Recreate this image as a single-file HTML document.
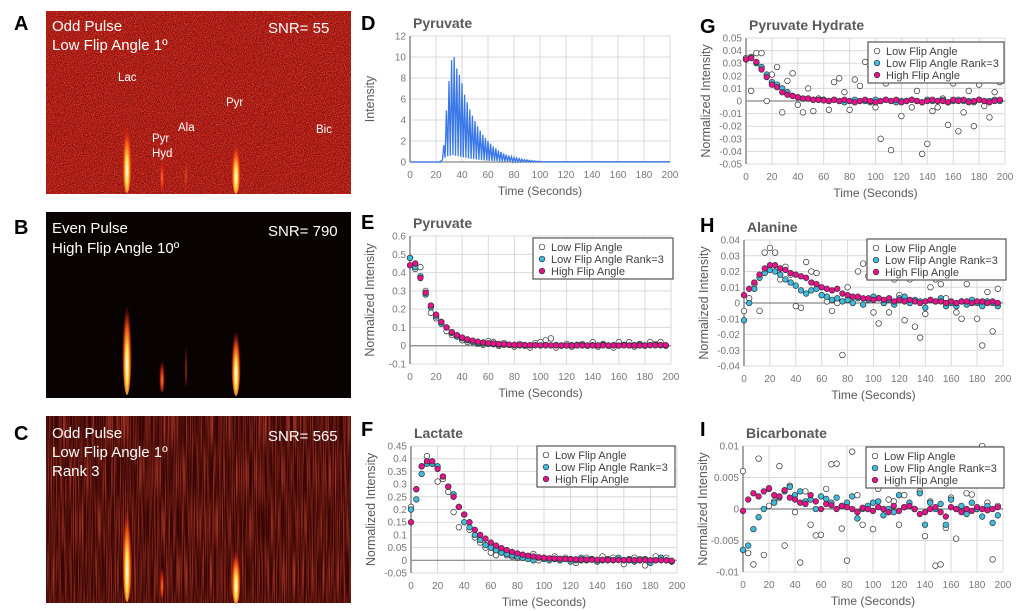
<!DOCTYPE html>
<html><head><meta charset="utf-8"><style>
html,body{margin:0;padding:0;background:#fff;}
svg{display:block;font-family:"Liberation Sans",Arial,sans-serif;}
</style></head><body>
<svg id="fig" width="1022" height="611" viewBox="0 0 1022 611" xmlns="http://www.w3.org/2000/svg">
<defs>
<filter id="noiseR" x="0" y="0" width="100%" height="100%">
<feTurbulence type="fractalNoise" baseFrequency="1.1" numOctaves="1" seed="3"/>
<feColorMatrix type="matrix" values="0 0 0 0 1  0 0 0 0 0.2  0 0 0 0 0.1  2.2 0 0 0 -0.9"/>
</filter>
<filter id="noiseD" x="0" y="0" width="100%" height="100%">
<feTurbulence type="fractalNoise" baseFrequency="1.1" numOctaves="1" seed="7"/>
<feColorMatrix type="matrix" values="0 0 0 0 0  0 0 0 0 0  0 0 0 0 0  2.2 0 0 0 -1.0"/>
</filter>
<filter id="noiseC" x="0" y="0" width="100%" height="100%">
<feTurbulence type="fractalNoise" baseFrequency="0.9 0.02" numOctaves="1" seed="5"/>
<feColorMatrix type="matrix" values="0 0 0 0 0.9  0 0 0 0 0.1  0 0 0 0 0.05  2 0 0 0 -0.8"/>
</filter>
<radialGradient id="streak" cx="0.5" cy="0.75" r="0.5">
<stop offset="0" stop-color="#ffffff"/><stop offset="0.3" stop-color="#ffe050"/>
<stop offset="0.65" stop-color="#ff5a10" stop-opacity="0.85"/><stop offset="1" stop-color="#d01010" stop-opacity="0"/>
</radialGradient>
<radialGradient id="streakW" cx="0.5" cy="0.7" r="0.5">
<stop offset="0" stop-color="#ff8a30"/><stop offset="0.6" stop-color="#e02010" stop-opacity="0.7"/><stop offset="1" stop-color="#c01010" stop-opacity="0"/>
</radialGradient>
</defs>

<g>
<rect x="46" y="11" width="305" height="183" fill="#b00e0b"/>
<rect x="46" y="11" width="305" height="183" filter="url(#noiseR)" opacity="0.9"/>
<rect x="46" y="11" width="305" height="183" filter="url(#noiseD)" opacity="0.7"/>
<ellipse cx="127" cy="148" rx="5" ry="45" fill="url(#streak)"/>
<ellipse cx="162" cy="170" rx="2.5" ry="20" fill="url(#streakW)"/>
<ellipse cx="186" cy="168" rx="2" ry="20" fill="url(#streakW)" opacity="0.6"/>
<ellipse cx="236" cy="160" rx="5" ry="34" fill="url(#streak)"/>
<text x="52" y="31" fill="#fff" font-size="15">Odd Pulse</text>
<text x="52" y="50" fill="#fff" font-size="15">Low Flip Angle 1º</text>
<text x="268" y="33" fill="#fff" font-size="15">SNR= 55</text>
<text x="118" y="81" fill="#fff" font-size="11.5">Lac</text>
<text x="152" y="142" fill="#fff" font-size="11.5">Pyr</text>
<text x="152" y="157" fill="#fff" font-size="11.5">Hyd</text>
<text x="178" y="131" fill="#fff" font-size="11.5">Ala</text>
<text x="226" y="106" fill="#fff" font-size="11.5">Pyr</text>
<text x="316" y="133" fill="#fff" font-size="11.5">Bic</text>
</g>
<text x="14" y="30" font-size="20" font-weight="bold">A</text>

<g>
<rect x="46" y="212" width="305" height="186" fill="#080202"/>
<ellipse cx="127" cy="335" rx="5" ry="60" fill="url(#streak)"/>
<ellipse cx="162" cy="372" rx="3" ry="20" fill="url(#streakW)"/>
<ellipse cx="186" cy="360" rx="1.5" ry="26" fill="url(#streakW)" opacity="0.5"/>
<ellipse cx="236" cy="352" rx="5" ry="44" fill="url(#streak)"/>
<text x="52" y="233" fill="#fff" font-size="15">Even Pulse</text>
<text x="52" y="253" fill="#fff" font-size="15">High Flip Angle 10º</text>
<text x="268" y="236" fill="#fff" font-size="15">SNR= 790</text>
</g>
<text x="14" y="234" font-size="20" font-weight="bold">B</text>

<g>
<rect x="46" y="416" width="305" height="187" fill="#3a0604"/>
<rect x="46" y="416" width="305" height="187" filter="url(#noiseC)" opacity="0.8"/>
<ellipse cx="127" cy="540" rx="5" ry="62" fill="url(#streak)"/>
<ellipse cx="162" cy="578" rx="2.5" ry="20" fill="url(#streakW)"/>
<ellipse cx="236" cy="568" rx="5" ry="36" fill="url(#streak)"/>
<text x="52" y="438" fill="#fff" font-size="15">Odd Pulse</text>
<text x="52" y="457" fill="#fff" font-size="15">Low Flip Angle 1º</text>
<text x="52" y="476" fill="#fff" font-size="15">Rank 3</text>
<text x="268" y="441" fill="#fff" font-size="15">SNR= 565</text>
</g>
<text x="14" y="440" font-size="20" font-weight="bold">C</text>

<text x="361" y="30" font-size="20" font-weight="bold">D</text>
<text x="361" y="229" font-size="20" font-weight="bold">E</text>
<text x="361" y="436" font-size="20" font-weight="bold">F</text>
<text x="700" y="33" font-size="20" font-weight="bold">G</text>
<text x="700" y="232" font-size="20" font-weight="bold">H</text>
<text x="700" y="436" font-size="20" font-weight="bold">I</text>
</svg>
<script>
const TIME=[0,4,8,12,16,20,24,28,32,36,40,44,48,52,56,60,64,68,72,76,80,84,88,92,96,100,104,108,112,116,120,124,128,132,136,140,144,148,152,156,160,164,168,172,176,180,184,188,192,196];
const X_TICKS=[0,20,40,60,80,100,120,140,160,180,200];
const D_T=[24,26,28,30,32,34,36,38,40,42,44,46,48,50,52,54,56,58,60,62,64,66,68,70,72,74,76,78,80,82,84,86,88,90,92,94,96,98,100];
const D_HIGH=[0.1,1.6,4.9,7.7,9.7,10,8.9,8.3,7.5,6.4,5.7,5.0,4.4,3.9,3.4,3.0,2.6,2.3,2.0,1.75,1.5,1.3,1.1,0.95,0.82,0.7,0.6,0.5,0.45,0.38,0.32,0.27,0.23,0.2,0.16,0.13,0.1,0.08,0.06];
const D_LOW=[0.05,0.2,0.4,0.55,0.6,0.65,0.6,0.55,0.5,0.45,0.4,0.35,0.3,0.27,0.24,0.2,0.18,0.15,0.13,0.11,0.1,0.09,0.08,0.07,0.06,0.05,0.04,0.04,0.03,0.03,0.02,0.02,0.02,0.02,0.01,0.01,0.01,0.01,0.01];
const D_YTICKS=["12","10","8","6","4","2","0"];
const E_HIGH=[0.44,0.45,0.37,0.29,0.22,0.17,0.13,0.10,0.075,0.058,0.045,0.035,0.028,0.022,0.018,0.014,0.012,0.010,0.008,0.006,0.005,0.004,0.004,0.003,0.003,0.002,0.002,0.002,0.002,0.001,0.002,0.001,0.002,0.001,0.002,0.001,0.002,0.002,0.001,0.002,0.001,0.002,0.001,0.002,0.001,0.002,0.003,0.002,0.004,0.003];
const E_RANK=[0.48,0.43,0.38,0.28,0.21,0.16,0.12,0.10,0.07,0.05,0.04,0.03,0.02,0.015,0.012,0.01,0.008,0.006,0.005,0.004,0.003,0.002,0.004,0.002,0.003,0.001,0.003,0.002,0.004,0.002,0.001,0.003,0.002,0.004,0.001,0.003,0.002,0.005,0.002,0.003,0.001,0.004,0.002,0.003,0.006,0.002,0.003,0.004,0.002,0.001];
const E_LOW=[0.48,0.42,0.43,0.30,0.18,0.15,0.13,0.08,0.06,0.05,0.03,0.02,0.025,0.01,0.005,0.025,0.02,0.0,0.015,0.005,-0.005,0.01,0.0,-0.01,0.015,0.02,0.03,0.04,-0.01,0.0,0.01,-0.005,0.005,0.01,0.0,0.02,-0.005,0.01,0.0,-0.01,0.02,0.005,0.02,-0.005,0.01,0.0,0.02,0.01,0.02,0.0];
const E_YTICKS=["0.6","0.5","0.4","0.3","0.2","0.1","0","-0.1"];
const F_HIGH=[0.15,0.28,0.37,0.39,0.39,0.36,0.33,0.29,0.25,0.21,0.18,0.15,0.12,0.10,0.085,0.07,0.058,0.048,0.04,0.033,0.027,0.022,0.018,0.015,0.012,0.01,0.008,0.007,0.006,0.005,0.004,0.004,0.003,0.003,0.002,0.002,0.002,0.001,0.001,0.001,0.001,0.001,0.001,0.0,0.001,0.0,0.0,0.0,0.0,-0.002];
const F_RANK=[0.20,0.24,0.34,0.38,0.38,0.37,0.33,0.29,0.26,0.21,0.15,0.13,0.10,0.08,0.06,0.05,0.04,0.03,0.025,0.02,0.015,0.01,0.005,0.0,0.01,0.005,0.0,0.005,0.0,0.005,-0.005,0.0,0.01,0.0,0.005,-0.005,0.0,0.005,0.0,0.01,0.0,0.005,-0.005,0.0,0.005,-0.01,0.0,0.01,0.0,-0.005];
const F_LOW=[0.21,0.28,0.37,0.41,0.38,0.31,0.32,0.27,0.19,0.13,0.18,0.12,0.09,0.07,0.05,0.03,0.02,0.04,0.02,0.015,0.01,0.02,0.01,0.025,0.0,0.01,0.005,0.015,0.0,0.01,0.005,-0.01,0.0,0.01,0.005,-0.005,0.015,0.0,0.01,0.005,-0.015,0.0,0.01,0.005,-0.02,0.0,0.015,0.01,0.01,-0.005];
const F_YTICKS=["0.45","0.4","0.35","0.3","0.25","0.2","0.15","0.1","0.05","0","-0.05"];
const G_HIGH=[0.033,0.034,0.031,0.025,0.019,0.013,0.011,0.007,0.005,0.004,0.003,0.002,0.002,0.001,0.001,0.0005,0.0,0.001,0.0,0.001,0.0,-0.001,0.0,0.001,0.0,-0.001,0.0,0.001,0.0,0.001,-0.001,0.0,0.001,0.0,-0.001,0.0,0.001,0.0,0.0,-0.001,0.001,0.0,0.001,-0.001,0.0,0.001,0.0,-0.001,0.0,0.001];
const G_RANK=[0.033,0.035,0.03,0.027,0.021,0.015,0.013,0.01,0.007,0.004,0.003,0.002,0.002,0.001,0.001,0.001,0.0,0.001,0.0,-0.001,0.0,0.001,0.0,0.0,-0.001,0.001,0.0,0.001,0.0,-0.001,0.0,0.0,0.001,0.0,-0.001,0.001,0.0,0.0,0.001,-0.001,0.0,0.001,0.0,0.0,-0.001,0.001,0.0,0.0,0.001,0.0];
const G_LOW=[0.034,0.008,0.038,0.038,0.0,0.021,0.027,-0.009,0.016,0.022,-0.003,-0.009,0.01,-0.008,0.002,0.001,-0.007,0.015,0.018,0.007,-0.007,0.017,0.012,0.031,0.027,-0.005,-0.03,0.014,-0.039,0.0,-0.012,0.0,-0.005,0.008,-0.042,-0.034,-0.008,-0.005,0.002,-0.019,0.014,-0.024,-0.009,0.008,-0.02,0.013,-0.004,-0.013,0.007,0.015];
const G_YTICKS=["0.05","0.04","0.03","0.02","0.01","0","-0.01","-0.02","-0.03","-0.04","-0.05"];
const H_HIGH=[0.005,0.009,0.013,0.018,0.022,0.024,0.024,0.022,0.021,0.019,0.018,0.017,0.016,0.013,0.012,0.01,0.009,0.008,0.009,0.006,0.005,0.004,0.004,0.003,0.003,0.002,0.003,0.002,0.003,0.001,0.002,0.001,0.002,0.001,0.0,0.001,0.002,0.001,0.001,0.0,0.001,0.0,0.001,0.001,0.0,0.001,0.001,0.0,0.001,0.0];
const H_RANK=[-0.011,0.0,0.009,0.016,0.019,0.021,0.02,0.018,0.015,0.013,0.011,0.008,0.006,0.008,0.009,0.005,0.004,0.002,0.003,0.001,0.002,0.0,0.003,-0.001,0.002,0.004,0.003,0.0,0.002,-0.001,0.003,0.004,0.0,0.002,0.001,-0.003,0.002,0.001,0.003,-0.002,0.0,-0.002,0.001,-0.001,0.002,0.0,-0.002,0.001,0.0,-0.002];
const H_LOW=[-0.005,0.003,0.012,-0.005,0.032,0.035,0.032,0.015,0.023,0.018,-0.002,-0.003,0.026,0.02,0.019,0.005,0.001,-0.005,0.0,-0.033,0.01,0.004,0.02,0.025,0.017,-0.006,-0.013,0.0,-0.006,0.015,0.005,-0.011,0.015,-0.015,-0.022,-0.007,0.01,0.015,0.012,0.003,0.0,-0.006,-0.01,0.012,0.0,-0.01,-0.027,0.007,-0.018,0.009];
const H_YTICKS=["0.04","0.03","0.02","0.01","0","-0.01","-0.02","-0.03","-0.04"];
const I_HIGH=[-0.0003,0.0015,0.0025,0.002,0.0028,0.0033,0.0022,0.002,0.003,0.0018,0.0015,0.001,0.0008,0.0022,0.0012,0.0,0.0008,0.0006,0.0,0.0005,0.0003,0.0,-0.0005,0.0002,0.0,-0.0003,0.0003,0.0,-0.0005,0.0005,-0.0003,0.0003,0.0005,0.0,-0.0008,-0.0005,0.0,0.0003,-0.0005,-0.0012,0.0003,0.0,-0.0005,0.0,-0.0003,0.0003,0.0,-0.0002,0.0,0.0003];
const I_RANK=[-0.0065,-0.0058,-0.0032,-0.0013,0.0,0.0032,0.001,0.0018,0.0028,0.0035,0.0022,0.0028,0.0012,0.0015,0.0,0.002,0.0016,0.001,0.0018,0.0005,0.001,0.002,-0.0015,0.0,0.0005,0.001,0.0012,-0.001,0.0,-0.0005,0.0022,0.0003,0.001,0.0,0.0025,-0.0025,0.001,0.0,0.0008,-0.0025,0.0015,0.0,0.0005,-0.0008,0.001,0.0,-0.0012,0.0005,-0.0022,-0.001];
const I_LOW=[0.006,-0.007,-0.0088,0.008,-0.0073,0.0005,0.0012,0.0068,-0.0058,0.0037,-0.0005,-0.0085,0.0028,-0.0025,-0.0042,-0.0041,0.0032,0.0071,0.0072,-0.0031,-0.0082,0.0091,0.0022,-0.0025,0.0,-0.0032,0.0032,0.0,0.0015,0.0012,-0.0025,0.0022,0.0005,0.0,0.0028,-0.0043,0.0012,-0.009,-0.0088,-0.003,0.0018,-0.0047,0.0038,0.0025,0.0023,0.0,0.01,0.001,-0.008,0.0005];
const I_YTICKS=["0.01","0.005","0","-0.005","-0.01"];
const LEGEND_LABELS=["Low Flip Angle","Low Flip Angle Rank=3","High Flip Angle"];

const NS="http://www.w3.org/2000/svg";
const svg=document.getElementById('fig');
function mk(tag,attrs,parent){const e=document.createElementNS(NS,tag);for(const k in attrs)e.setAttribute(k,attrs[k]);(parent||svg).appendChild(e);return e;}

function axes(c,key){
  const g=mk('g',{});
  
  
  const sx=v=>c.x0+(v-0)/(200-0)*(c.x1-c.x0);
  const sy=v=>c.yb+(v-c.ymin)/(c.ymax-c.ymin)*(c.yt-c.yb);
  const n=c.yticks.length;
  for(let i=0;i<n;i++){
    const v=c.ymax-(c.ymax-c.ymin)*i/(n-1);
    const y=sy(v);
    const l=mk('line',{x1:c.x0,x2:c.x1,y1:y,y2:y,stroke:'#d9d9d9','stroke-width':1},g);
    
    
    const t=mk('text',{x:c.x0-4,y:y+3.5,'text-anchor':'end','font-size':10,fill:'#777'},g);
    t.textContent=c.yticks[i];
    
    
  }
  X_TICKS.forEach(v=>{
    const x=sx(v);
    const l=mk('line',{x1:x,x2:x,y1:c.yt,y2:c.yb,stroke:'#d9d9d9','stroke-width':1},g);
    
    
    const t=mk('text',{x:x,y:c.yb+16,'text-anchor':'middle','font-size':10,fill:'#777'},g);
    t.textContent=String(v);
    
    
  });
  const ax=mk('line',{x1:c.x0,x2:c.x0,y1:c.yt,y2:c.yb,stroke:'#888','stroke-width':1.5},g);
  
  
  const z=mk('line',{x1:c.x0,x2:c.x1,y1:sy(0),y2:sy(0),stroke:'#888','stroke-width':1.2},g);
  
  
  const ti=mk('text',{x:c.x0+3,y:c.yt-8,'font-size':14,'font-weight':'bold',fill:'#595959'},g);
  ti.textContent=c.title;
  
  
  const xt=mk('text',{x:(c.x0+c.x1)/2,y:c.yb+33,'text-anchor':'middle','font-size':12,fill:'#595959'},g);
  xt.textContent='Time (Seconds)';
  
  
  const yx=c.x0-36, yy=(c.yt+c.yb)/2;
  const yt=mk('text',{x:yx,y:yy,'text-anchor':'middle','font-size':12.5,fill:'#595959',transform:`rotate(-90 ${yx} ${yy})`},g);
  yt.textContent=c.ylabel;
  
  
  return {g,sx,sy};
}
const STYLES=[{fill:'#ffffff'},{fill:'#3cbde0'},{fill:'#e8108c'}];
function scatterChart(c,key,low,rank,high){
  const {g,sx,sy}=axes(c,key);
  [low,rank,high].forEach((arr,si)=>{
    arr.forEach((v,i)=>{
      const p=mk('circle',{cx:sx(TIME[i]),cy:sy(v),r:2.8,fill:STYLES[si].fill,stroke:'#333','stroke-width':0.7},g);
      
      
    });
  });
  const lg=mk('g',{},g);
  
  
  mk('rect',{x:c.lx,y:c.ly,width:c.lw,height:41,fill:'#fff',stroke:'#555','stroke-width':1.2},lg);
  LEGEND_LABELS.forEach((lab,i)=>{
    const y=c.ly+9+i*12;
    const m=mk('circle',{cx:c.lx+9,cy:y,r:2.8,fill:STYLES[i].fill,stroke:'#333','stroke-width':0.7},lg);
    
    
    const t=mk('text',{x:c.lx+18,y:y+4,'font-size':11,fill:'#404040'},lg);
    t.textContent=lab;
    
    
  });
}
(function(){
  const c={x0:410,x1:670,yt:36,yb:162,ymin:0,ymax:12,yticks:D_YTICKS,title:'Pyruvate',ylabel:'Intensity'};
  const {g,sx,sy}=axes(c,'pyruvate-raw');
  let pts=[[sx(0),sy(0)],[sx(D_T[0]),sy(0)]];
  D_T.forEach((t,i)=>{pts.push([sx(t-1),sy(D_LOW[i])]);pts.push([sx(t),sy(D_HIGH[i])]);});
  pts.push([sx(102),sy(0.02)]);pts.push([sx(200),sy(0.02)]);
  const pl=mk('polyline',{points:pts.map(p=>p.join(',')).join(' '),fill:'none',stroke:'#3a78e8','stroke-width':1.3},g);
  
  
})();
scatterChart({x0:410,x1:671,yt:236,yb:364,ymin:-0.1,ymax:0.6,yticks:E_YTICKS,title:'Pyruvate',ylabel:'Normalized Intensity',lx:533,ly:238,lw:140},'pyruvate-normalized',E_LOW,E_RANK,E_HIGH);
scatterChart({x0:411,x1:677,yt:446,yb:573,ymin:-0.05,ymax:0.45,yticks:F_YTICKS,title:'Lactate',ylabel:'Normalized Intensity',lx:537,ly:446,lw:138},'lactate',F_LOW,F_RANK,F_HIGH);
scatterChart({x0:746,x1:1005,yt:38,yb:164,ymin:-0.05,ymax:0.05,yticks:G_YTICKS,title:'Pyruvate Hydrate',ylabel:'Normalized Intensity',lx:868,ly:42,lw:136},'pyruvate-hydrate',G_LOW,G_RANK,G_HIGH);
scatterChart({x0:744,x1:1003,yt:240,yb:366,ymin:-0.04,ymax:0.04,yticks:H_YTICKS,title:'Alanine',ylabel:'Normalized Intensity',lx:867,ly:239,lw:139},'alanine',H_LOW,H_RANK,H_HIGH);
scatterChart({x0:743,x1:1003,yt:446,yb:572,ymin:-0.01,ymax:0.01,yticks:I_YTICKS,title:'Bicarbonate',ylabel:'Normalized Intensity',lx:866,ly:447,lw:138},'bicarbonate',I_LOW,I_RANK,I_HIGH);
</script>
</body></html>
